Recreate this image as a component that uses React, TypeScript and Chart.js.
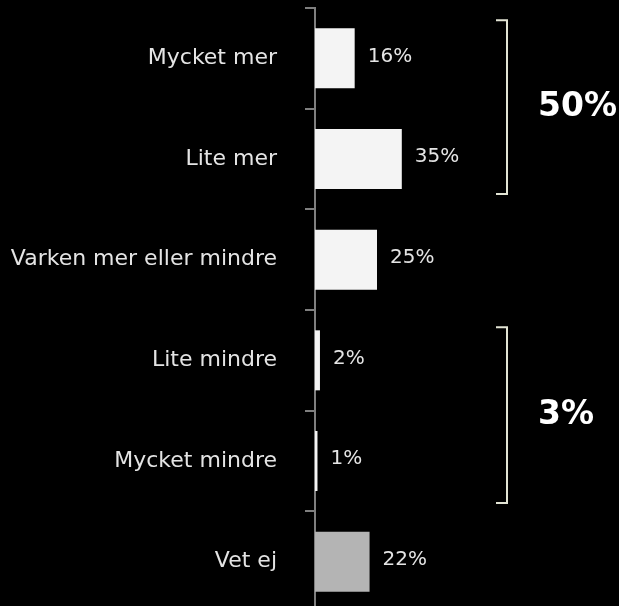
import React, { useEffect, useRef } from "react";
import { Chart, registerables } from "chart.js";

Chart.register(...registerables);

const categories = [
  "Mycket mer",
  "Lite mer",
  "Varken mer eller mindre",
  "Lite mindre",
  "Mycket mindre",
  "Vet ej",
];
const values = [16, 35, 25, 2, 1, 22];
const valueLabels = ["16%", "35%", "25%", "2%", "1%", "22%"];
const barColors = ["#f4f4f4", "#f4f4f4", "#f4f4f4", "#f4f4f4", "#f4f4f4", "#b4b4b4"];
const groupRanges = [
  [0, 1],
  [3, 4],
];
const groupLabels = ["50%", "3%"];

const FONT = "'DejaVu Sans', 'Open Sans', sans-serif";

const overlayPlugin = {
  id: "overlay",
  afterDatasetsDraw(chart: any) {
    const ctx = chart.ctx;
    const meta = chart.getDatasetMeta(0);
    ctx.save();
    ctx.font = `20px ${FONT}`;
    ctx.fillStyle = "#e4e4e4";
    ctx.textAlign = "left";
    ctx.textBaseline = "middle";
    meta.data.forEach((bar: any, i: number) => {
      ctx.fillText(valueLabels[i], bar.x + 13, bar.y - 2);
    });
    const y = chart.scales.y;
    const pads = [
      [38, 35],
      [33, 42],
    ];
    ctx.strokeStyle = "#e2e4d4";
    ctx.lineWidth = 2;
    groupRanges.forEach((r, gi) => {
      const top = y.getPixelForValue(r[0]) - pads[gi][0];
      const bottom = y.getPixelForValue(r[1]) + pads[gi][1];
      const bx = 507;
      ctx.beginPath();
      ctx.moveTo(bx - 11, top);
      ctx.lineTo(bx, top);
      ctx.lineTo(bx, bottom);
      ctx.lineTo(bx - 11, bottom);
      ctx.stroke();
      ctx.save();
      ctx.font = `bold 33px ${FONT}`;
      ctx.fillStyle = "#ffffff";
      ctx.textAlign = "left";
      ctx.textBaseline = "middle";
      ctx.fillText(groupLabels[gi], 538, (top + bottom) / 2);
      ctx.restore();
    });
    ctx.restore();
  },
};

export default function App() {
  const ref = useRef<HTMLCanvasElement>(null);
  useEffect(() => {
    document.body.style.margin = "0";
    document.body.style.background = "#000";
    const chart = new Chart(ref.current!, {
      type: "bar",
      data: {
        labels: categories,
        datasets: [
          {
            data: values,
            backgroundColor: barColors,
            borderWidth: 0,
            barPercentage: 0.596,
            categoryPercentage: 1,
          },
        ],
      },
      options: {
        indexAxis: "y",
        animation: false,
        responsive: false,
        devicePixelRatio: 1,
        layout: { padding: { top: 8, right: 56, bottom: 0, left: 0 } },
        plugins: { legend: { display: false }, tooltip: { enabled: false } },
        scales: {
          x: { display: false, min: 0, max: 100 },
          y: {
            afterFit(scale: any) {
              scale.width = 315;
              scale.paddingTop = 0;
              scale.paddingBottom = 0;
            },
            grid: {
              drawOnChartArea: false,
              drawTicks: true,
              tickLength: 10,
              color: "#7f7f7f",
              lineWidth: 2,
              offset: true,
            },
            border: { display: true, color: "#7f7f7f", width: 2 },
            ticks: {
              color: "#e4e4e4",
              padding: 28,
              font: { family: FONT, size: 22 },
            },
          },
        },
      },
      plugins: [overlayPlugin],
    });
    return () => chart.destroy();
  }, []);
  return (
    <div
      style={{
        position: "fixed",
        left: 0,
        top: 0,
        width: 619,
        height: 606,
        overflow: "hidden",
        background: "#000",
      }}
    >
      <canvas ref={ref} width={619} height={612} style={{ display: "block" }} />
    </div>
  );
}
